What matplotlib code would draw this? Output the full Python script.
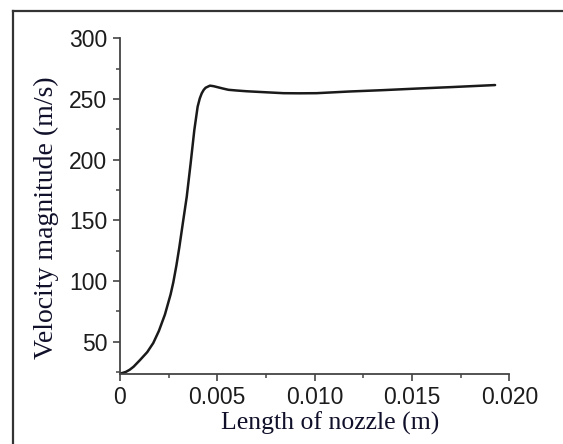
import matplotlib
matplotlib.use('Agg')
import matplotlib.pyplot as plt
from matplotlib.lines import Line2D
from matplotlib.ticker import MultipleLocator

# velocity along the nozzle
length_m = [0.0, 0.0001, 0.0003, 0.0005, 0.0007, 0.00103, 0.0014, 0.00171,
            0.0020, 0.00231, 0.0026, 0.00274, 0.0029, 0.00305, 0.00325,
            0.00343, 0.00363, 0.00382, 0.00399, 0.0041, 0.0042, 0.0043,
            0.0044, 0.00462, 0.0048, 0.0050, 0.0053, 0.00557, 0.0060,
            0.0065, 0.0072, 0.0078, 0.0084, 0.0092, 0.0101, 0.0118,
            0.0135, 0.01524, 0.0170, 0.01927]
velocity = [24.0, 24.2, 25.2, 27.0, 29.5, 35.0, 41.5, 49.0,
            59.0, 72.5, 89.0, 99.0, 113.0, 128.0, 150.0,
            169.5, 197.0, 224.5, 243.7, 250.5, 254.7, 257.5,
            259.3, 261.0, 260.6, 259.8, 258.6, 257.6, 257.0,
            256.4, 255.8, 255.3, 254.8, 254.7, 254.8, 256.2,
            257.3, 258.6, 259.8, 261.5]

x_ticks = [0, 0.005, 0.010, 0.015, 0.020]
x_tick_labels = ['0', '0.005', '0.010', '0.015', '0.020']
y_ticks = [50, 100, 150, 200, 250, 300]

fig = plt.figure(figsize=(5.63, 4.44), dpi=100)
ax = fig.add_axes([0.2131, 0.1577, 0.6915, 0.7560])

ax.plot(length_m, velocity, color='#1a1a1a', linewidth=1.8,
        solid_capstyle='round', solid_joinstyle='round')

ax.set_xlim(0, 0.020)
ax.set_ylim(23.5, 300)
ax.set_xticks(x_ticks)
ax.set_xticklabels(x_tick_labels)
ax.set_yticks(y_ticks)
ax.xaxis.set_minor_locator(MultipleLocator(0.0025))
ax.yaxis.set_minor_locator(MultipleLocator(25))

for side in ['top', 'right']:
    ax.spines[side].set_visible(False)
for side in ['left', 'bottom']:
    ax.spines[side].set_color('#444444')
    ax.spines[side].set_linewidth(1.3)

ax.tick_params(which='major', direction='out', length=5, width=1.2, color='#444444',
               labelsize=16.5, labelcolor='#1c1c1c', pad=4)
ax.tick_params(which='minor', direction='out', length=3, width=1.1, color='#444444')
for lab in ax.get_xticklabels() + ax.get_yticklabels():
    lab.set_fontfamily('Liberation Sans')

ax.set_xlabel('Length of nozzle (m)', fontfamily='Liberation Serif', fontsize=18.5,
              color='#10102a', va='baseline')
ax.xaxis.set_label_coords(0.539, -0.167)
ax.set_ylabel('Velocity magnitude (m/s)', fontfamily='Liberation Serif', fontsize=20,
              color='#10102a', va='center')
ax.yaxis.set_label_coords(-0.19, 0.465)

# frame lines of the cropped figure (top and left only)
fig.add_artist(Line2D([13 / 563, 1.0], [1 - 11 / 444, 1 - 11 / 444],
                      transform=fig.transFigure, color='#333333', linewidth=1.6))
fig.add_artist(Line2D([13 / 563, 13 / 563], [0.0, 1 - 11 / 444],
                      transform=fig.transFigure, color='#333333', linewidth=1.6))

fig.savefig('out.png', dpi=100)
